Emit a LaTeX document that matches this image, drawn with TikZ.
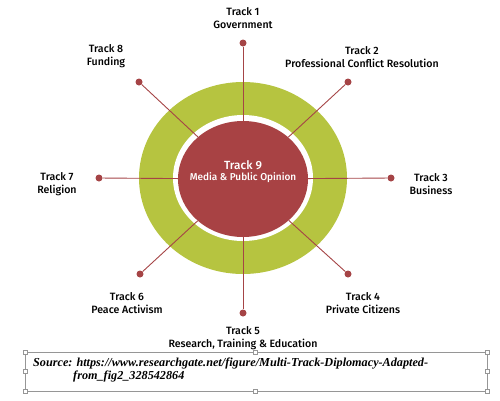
\documentclass[tikz,border=0pt]{standalone}
\usepackage{fontspec}
\setmainfont{Fira Sans}[UprightFont={* Medium}]
\newfontfamily\srcfont{Liberation Serif}
\usetikzlibrary{shapes.geometric}
\definecolor{ringgreen}{RGB}{182,196,64}
\definecolor{coreRed}{RGB}{168,66,68}
\definecolor{spokeRed}{RGB}{165,68,70}
\definecolor{boxgray}{RGB}{150,150,150}
\tikzset{
  lbl/.style={align=center, font=\fontsize{10.6}{12.8}\selectfont, text=black, inner sep=0pt},
  dotmark/.style={circle, fill=spokeRed, inner sep=0pt, minimum size=7pt},
  spoke/.style={draw=spokeRed, line width=0.9pt},
  handle/.style={draw=boxgray, fill=white, inner sep=0pt, minimum size=4pt, line width=0.5pt},
}
\begin{document}
\begin{tikzpicture}[x=1pt,y=-1pt]
\useasboundingbox (0,0) rectangle (500,400);
% rings
\fill[ringgreen] (243,178) ellipse [x radius=104pt, y radius=96pt];
\fill[white] (243,178) ellipse [x radius=70pt, y radius=63pt];
\node[ellipse, fill=coreRed, minimum width=130pt, minimum height=116pt, inner sep=0pt] (c) at (243,179) {};
% dots
\node[dotmark] (d1) at (243,43) {};
\node[dotmark] (d2) at (348,82) {};
\node[dotmark] (d3) at (391,178) {};
\node[dotmark] (d4) at (348,274) {};
\node[dotmark] (d5) at (243,313) {};
\node[dotmark] (d6) at (140,274) {};
\node[dotmark] (d7) at (99,178) {};
\node[dotmark] (d8) at (139,82) {};
% spokes
\foreach \d in {d1,d2,d3,d4,d5,d6,d7,d8} {\draw[spoke] (c) -- (\d);}
% center text
\node[lbl, text=white, font=\fontsize{11.8}{12}\selectfont] (t9) at (243,172) {Track 9\\[-1pt]{\fontsize{10}{11}\selectfont Media \& Public Opinion}};
% labels
\node[lbl] (t1) at (243,18) {Track 1\\Government};
\node[lbl] (t2) at (362,57) {Track 2\\Professional Conflict Resolution};
\node[lbl] (t3) at (431,184) {Track 3\\Business};
\node[lbl] (t4) at (363,303) {Track 4\\Private Citizens};
\node[lbl] (t5) at (243,338) {Track 5\\Research, Training \& Education};
\node[lbl] (t6) at (127,303) {Track 6\\Peace Activism};
\node[lbl] (t7) at (57,184) {Track 7\\Religion};
\node[lbl] (t8) at (106,56) {Track 8\\Funding};
% source box
\draw[boxgray, line width=0.6pt] (25,352) rectangle (487,391);
\foreach \p in {(25,352),(255,352),(487,352),(25,371),(487,371),(25,391),(255,391),(487,391)} {\node[handle] at \p {};}
\node[anchor=base west, inner sep=0pt, font=\srcfont\bfseries\itshape\fontsize{12.2}{12}\selectfont] (src1) at (33,366) {Source: https://www.researchgate.net/figure/Multi-Track-Diplomacy-Adapted-};
\node[anchor=base west, inner sep=0pt, font=\srcfont\bfseries\itshape\fontsize{12.2}{12}\selectfont] (src2) at (73,379) {from\_fig2\_328542864};
\end{tikzpicture}
\end{document}
